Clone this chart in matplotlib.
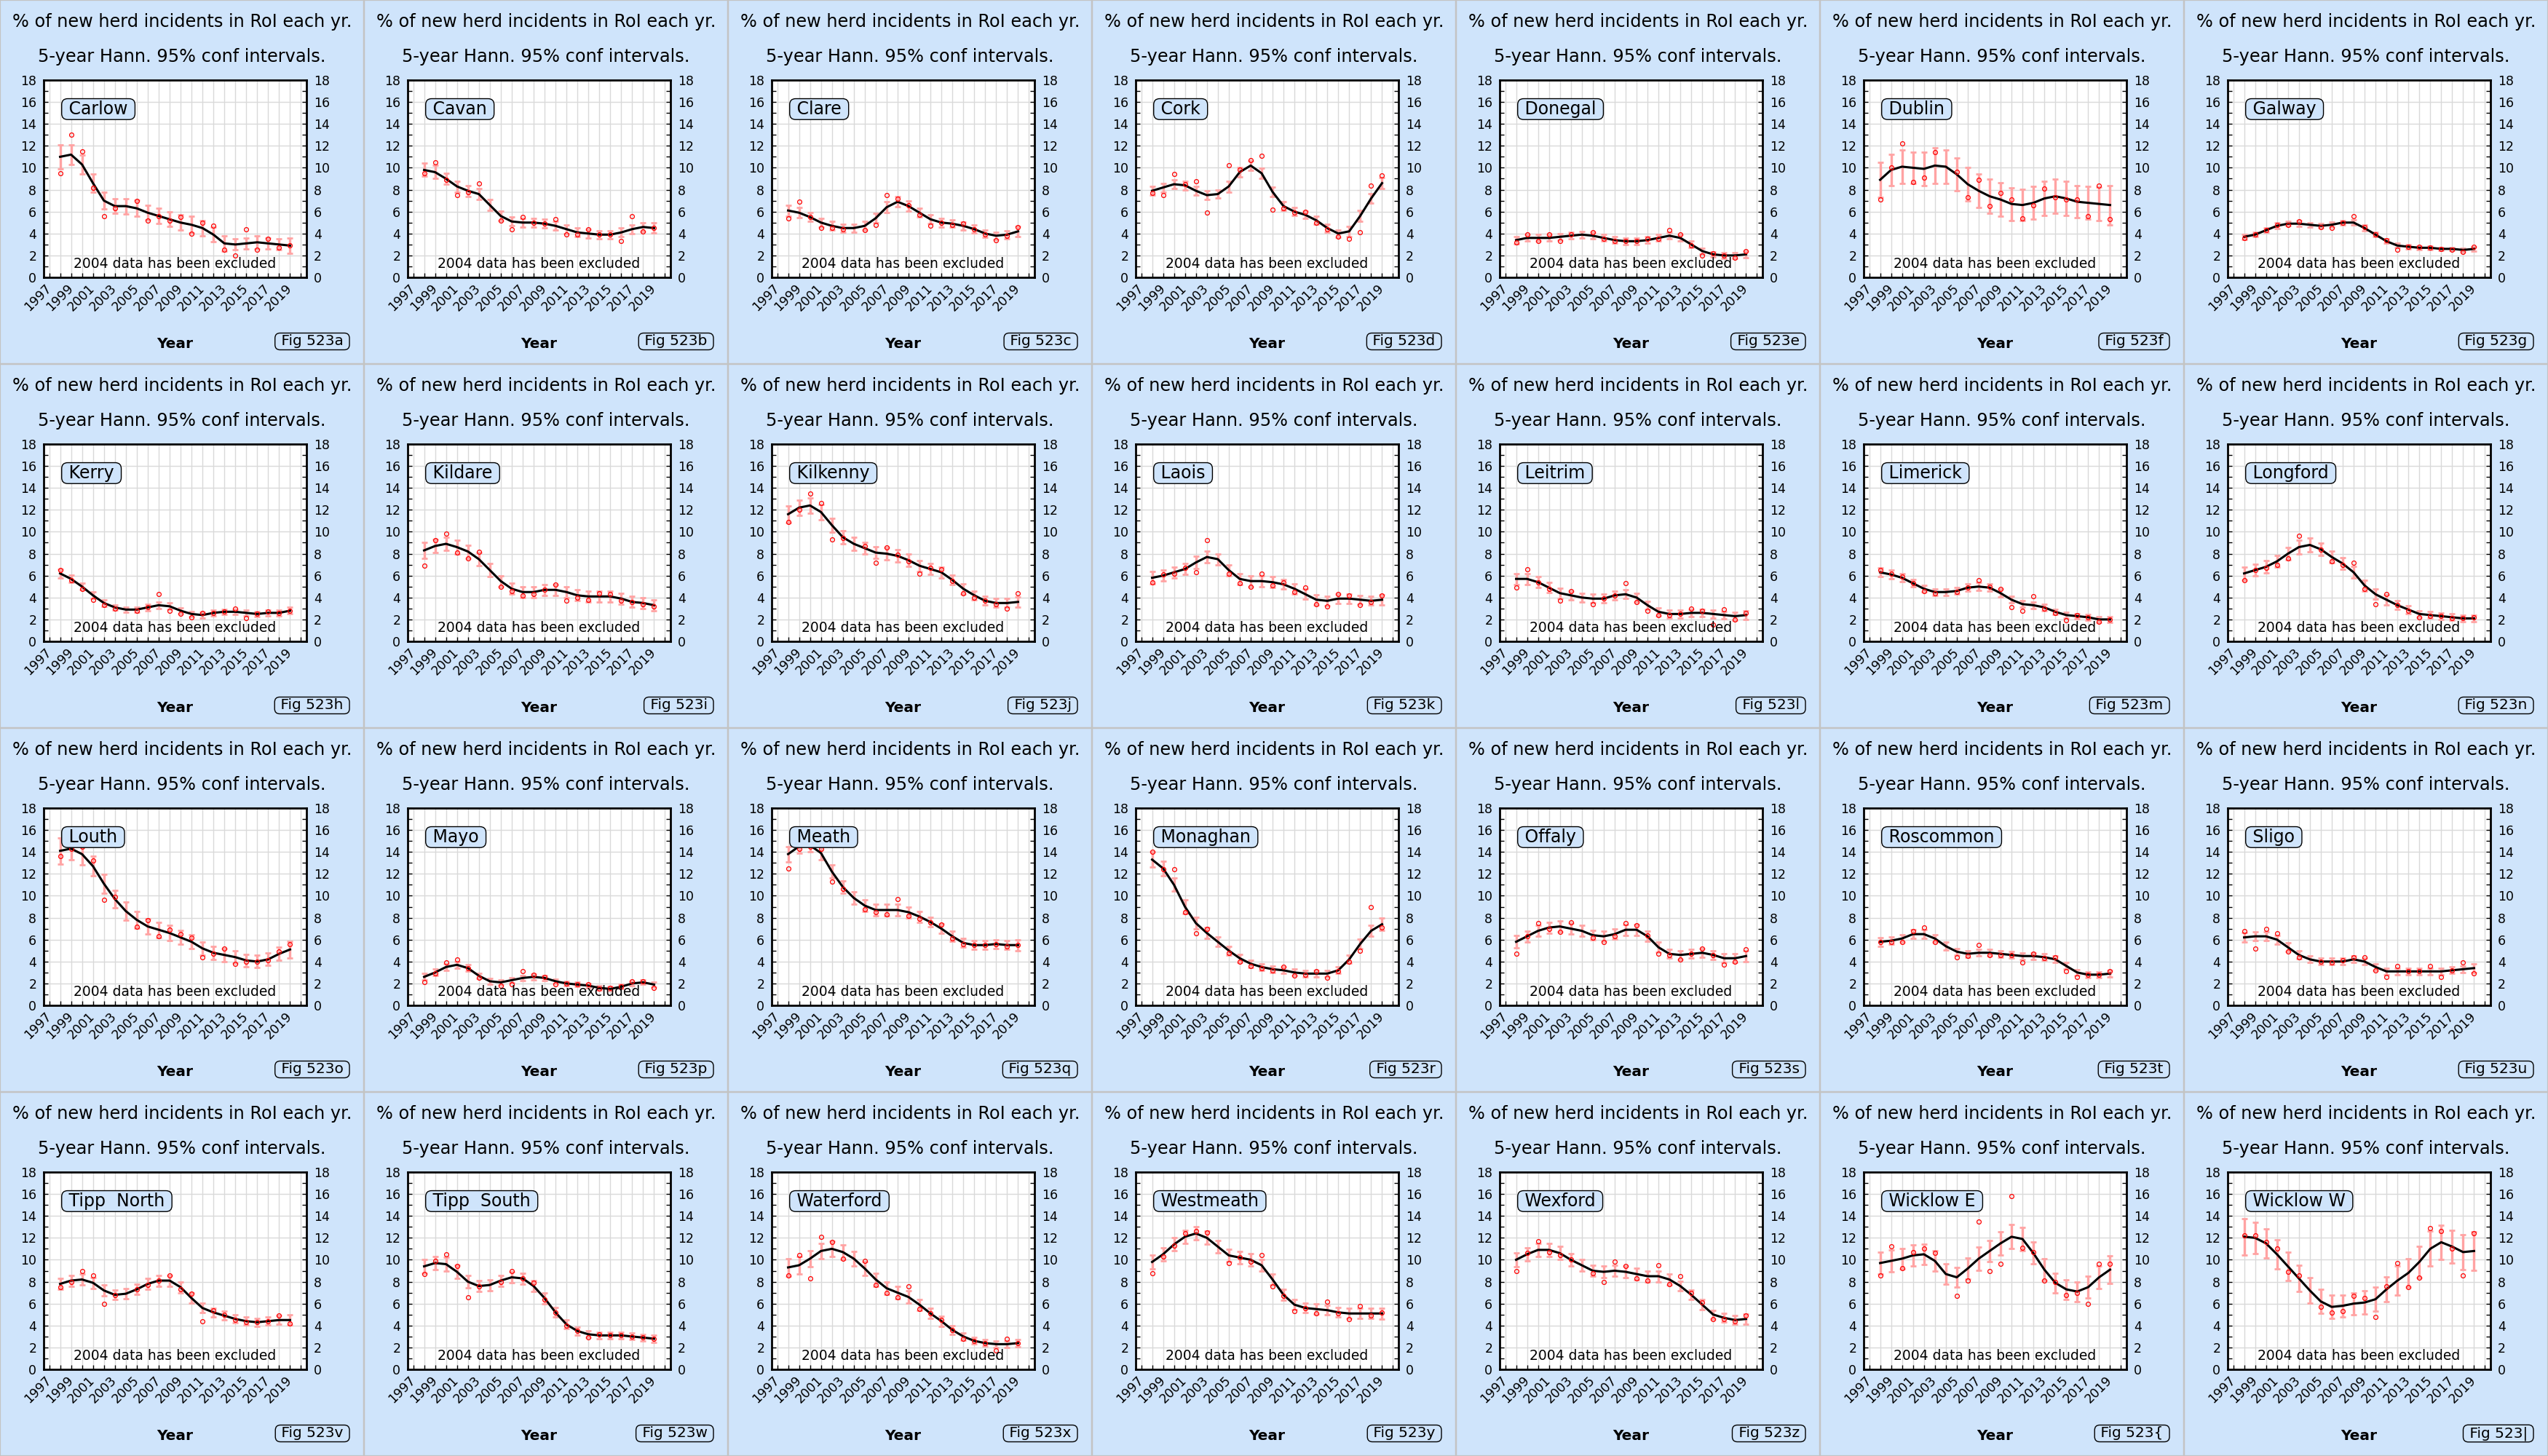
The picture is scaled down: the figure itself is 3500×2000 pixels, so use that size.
import numpy as np
import matplotlib.pyplot as plt
from matplotlib.patches import Rectangle

YEARS = list(range(1998, 2020))

# smoothed %, half width of 95% interval, observed % (2004 excluded -> None)
carlow = [11.0, 11.2, 10.3, 8.6, 7.0, 6.5, 6.5, 6.3, 5.9, 5.6, 5.3, 5.0, 4.8, 4.5, 3.9, 3.1, 3.0, 3.1, 3.2, 3.1, 3.0, 2.9]
carlow_ci = [1.1, 0.9, 0.85, 0.8, 0.75, 0.65, 0.7, 0.75, 0.65, 0.7, 0.65, 0.7, 0.75, 0.7, 0.65, 0.7, 0.5, 0.5, 0.6, 0.5, 0.5, 0.7]
carlow_obs = [9.5, 13.0, 11.5, 8.2, 5.6, 6.3, None, 7.0, 5.2, 5.6, 5.2, 5.5, 4.0, 5.0, 4.7, 2.5, 2.0, 4.4, 2.5, 3.5, 2.7, 2.9]

cavan = [9.8, 9.6, 9.0, 8.3, 7.9, 7.6, 6.6, 5.6, 5.1, 5.0, 5.0, 4.9, 4.7, 4.4, 4.1, 4.0, 3.9, 3.9, 4.1, 4.4, 4.6, 4.5]
cavan_ci = [0.6, 0.6, 0.5, 0.5, 0.5, 0.5, 0.5, 0.45, 0.4, 0.4, 0.4, 0.4, 0.4, 0.4, 0.4, 0.4, 0.35, 0.35, 0.4, 0.4, 0.4, 0.45]
cavan_obs = [9.5, 10.5, 8.9, 7.5, 7.8, 8.6, None, 5.2, 4.4, 5.5, 5.0, 4.9, 5.3, 3.9, 3.9, 4.4, 3.9, 3.9, 3.3, 5.6, 4.2, 4.5]

clare = [6.1, 5.9, 5.5, 5.0, 4.7, 4.5, 4.5, 4.7, 5.4, 6.4, 6.9, 6.5, 5.9, 5.3, 5.0, 4.9, 4.7, 4.4, 4.0, 3.8, 3.9, 4.2]
clare_ci = [0.5, 0.45, 0.4, 0.4, 0.4, 0.35, 0.35, 0.4, 0.45, 0.5, 0.45, 0.45, 0.4, 0.4, 0.4, 0.35, 0.35, 0.35, 0.35, 0.35, 0.35, 0.45]
clare_obs = [5.4, 6.9, 5.5, 4.5, 4.5, 4.4, None, 4.3, 4.8, 7.5, 7.2, 6.6, 5.7, 4.7, 5.0, 4.8, 4.9, 4.4, 3.9, 3.4, 3.8, 4.6]

cork = [7.9, 8.2, 8.5, 8.4, 7.9, 7.5, 7.6, 8.3, 9.6, 10.2, 9.5, 7.8, 6.5, 6.0, 5.7, 5.2, 4.5, 4.0, 4.2, 5.6, 7.2, 8.6]
cork_ci = [0.4, 0.4, 0.4, 0.4, 0.4, 0.4, 0.35, 0.5, 0.45, 0.45, 0.45, 0.45, 0.4, 0.35, 0.35, 0.35, 0.35, 0.35, 0.45, 0.5, 0.45, 0.5]
cork_obs = [7.7, 7.5, 9.4, 8.5, 8.8, 5.9, None, 10.2, 9.8, 10.7, 11.1, 6.2, 6.3, 5.9, 6.0, 5.0, 4.4, 3.7, 3.5, 4.1, 8.4, 9.3]

donegal = [3.4, 3.6, 3.6, 3.6, 3.7, 3.8, 3.9, 3.8, 3.6, 3.4, 3.3, 3.3, 3.4, 3.6, 3.8, 3.6, 3.0, 2.4, 2.1, 2.0, 2.0, 2.1]
donegal_ci = [0.35, 0.3, 0.3, 0.3, 0.3, 0.3, 0.3, 0.3, 0.3, 0.3, 0.3, 0.3, 0.3, 0.3, 0.3, 0.3, 0.3, 0.25, 0.25, 0.25, 0.25, 0.3]
donegal_obs = [3.2, 3.9, 3.3, 3.9, 3.3, 3.9, None, 4.1, 3.5, 3.3, 3.3, 3.3, 3.5, 3.5, 4.3, 3.9, 2.9, 2.0, 2.2, 2.0, 1.8, 2.4]

dublin = [8.9, 9.8, 10.1, 10.0, 9.9, 10.2, 10.1, 9.4, 8.5, 7.9, 7.4, 7.1, 6.7, 6.6, 6.8, 7.2, 7.4, 7.2, 6.9, 6.8, 6.7, 6.6]
dublin_ci = [1.6, 1.45, 1.5, 1.45, 1.55, 1.65, 1.55, 1.5, 1.55, 1.55, 1.55, 1.55, 1.5, 1.45, 1.5, 1.55, 1.55, 1.55, 1.45, 1.5, 1.55, 1.8]
dublin_obs = [7.1, 10.0, 12.2, 8.7, 9.1, 11.4, None, 9.6, 7.3, 8.9, 6.5, 7.7, 7.1, 5.4, 6.6, 8.1, 7.3, 7.1, 7.1, 5.6, 8.4, 5.3]

galway = [3.7, 3.9, 4.3, 4.7, 4.9, 4.9, 4.8, 4.7, 4.8, 5.0, 5.0, 4.5, 3.9, 3.3, 2.9, 2.8, 2.7, 2.7, 2.6, 2.6, 2.5, 2.6]
galway_ci = [0.25, 0.2, 0.2, 0.25, 0.2, 0.25, 0.2, 0.2, 0.25, 0.2, 0.25, 0.25, 0.2, 0.2, 0.2, 0.2, 0.15, 0.15, 0.15, 0.15, 0.15, 0.2]
galway_obs = [3.6, 3.9, 4.3, 4.8, 4.8, 5.1, None, 4.6, 4.5, 5.0, 5.6, 4.6, 3.9, 3.4, 2.5, 2.8, 2.8, 2.7, 2.6, 2.5, 2.3, 2.8]

kerry = [6.2, 5.7, 5.0, 4.2, 3.5, 3.1, 2.9, 2.9, 3.1, 3.3, 3.2, 2.8, 2.5, 2.4, 2.6, 2.7, 2.7, 2.6, 2.5, 2.6, 2.6, 2.8]
kerry_ci = [0.4, 0.35, 0.3, 0.3, 0.3, 0.25, 0.25, 0.25, 0.3, 0.3, 0.3, 0.25, 0.25, 0.25, 0.25, 0.25, 0.25, 0.25, 0.25, 0.25, 0.25, 0.3]
kerry_obs = [6.5, 5.6, 4.8, 3.8, 3.3, 3.0, None, 2.8, 3.1, 4.3, 2.8, 2.5, 2.2, 2.6, 2.6, 2.7, 3.0, 2.1, 2.5, 2.7, 2.6, 2.8]

kildare = [8.3, 8.7, 8.9, 8.6, 8.2, 7.5, 6.5, 5.5, 4.8, 4.5, 4.5, 4.7, 4.7, 4.5, 4.2, 4.1, 4.1, 4.1, 3.9, 3.6, 3.5, 3.3]
kildare_ci = [0.7, 0.6, 0.6, 0.65, 0.6, 0.6, 0.6, 0.5, 0.5, 0.5, 0.5, 0.5, 0.5, 0.5, 0.5, 0.5, 0.5, 0.5, 0.5, 0.5, 0.5, 0.5]
kildare_obs = [6.9, 9.2, 9.8, 8.1, 7.6, 8.2, None, 5.0, 4.6, 4.2, 4.3, 4.7, 5.2, 3.7, 4.0, 3.8, 4.4, 4.3, 3.7, 3.6, 3.4, 3.2]

kilkenny = [11.6, 12.2, 12.4, 11.8, 10.6, 9.5, 8.9, 8.5, 8.1, 8.0, 7.8, 7.4, 6.9, 6.6, 6.3, 5.6, 4.8, 4.2, 3.7, 3.5, 3.5, 3.6]
kilkenny_ci = [0.75, 0.7, 0.7, 0.7, 0.65, 0.6, 0.6, 0.55, 0.55, 0.55, 0.55, 0.55, 0.5, 0.5, 0.5, 0.45, 0.45, 0.4, 0.4, 0.4, 0.4, 0.45]
kilkenny_obs = [10.9, 12.0, 13.5, 12.6, 9.3, 9.4, None, 8.7, 7.2, 8.6, 7.9, 7.3, 6.2, 6.7, 6.6, 5.5, 4.4, 4.0, 3.7, 3.4, 3.0, 4.4]

laois = [5.8, 6.0, 6.3, 6.6, 7.2, 7.7, 7.5, 6.5, 5.7, 5.5, 5.5, 5.4, 5.2, 4.8, 4.3, 3.8, 3.7, 3.9, 3.9, 3.8, 3.7, 3.8]
laois_ci = [0.55, 0.5, 0.5, 0.5, 0.55, 0.55, 0.5, 0.5, 0.5, 0.5, 0.5, 0.5, 0.45, 0.45, 0.45, 0.45, 0.45, 0.45, 0.45, 0.4, 0.4, 0.45]
laois_obs = [5.4, 6.1, 6.2, 6.7, 6.3, 9.2, None, 6.2, 5.3, 5.0, 6.2, 5.1, 5.4, 4.5, 4.9, 3.4, 3.2, 4.3, 4.2, 3.3, 3.6, 4.2]

leitrim = [5.7, 5.7, 5.4, 4.9, 4.4, 4.2, 4.0, 3.9, 3.9, 4.2, 4.3, 4.0, 3.3, 2.7, 2.5, 2.5, 2.6, 2.6, 2.5, 2.4, 2.3, 2.4]
leitrim_ci = [0.5, 0.5, 0.5, 0.45, 0.45, 0.4, 0.4, 0.4, 0.4, 0.4, 0.4, 0.4, 0.35, 0.35, 0.35, 0.35, 0.35, 0.35, 0.35, 0.35, 0.35, 0.4]
leitrim_obs = [4.9, 6.6, 5.4, 4.8, 3.7, 4.6, None, 3.4, 3.9, 4.2, 5.3, 3.6, 2.8, 2.4, 2.4, 2.5, 3.0, 2.8, 1.5, 2.9, 2.0, 2.6]

limerick = [6.3, 6.1, 5.8, 5.3, 4.8, 4.5, 4.5, 4.6, 4.9, 5.0, 4.9, 4.4, 3.8, 3.4, 3.3, 3.1, 2.7, 2.4, 2.3, 2.2, 2.0, 2.0]
limerick_ci = [0.4, 0.4, 0.35, 0.35, 0.3, 0.3, 0.3, 0.3, 0.35, 0.35, 0.35, 0.35, 0.3, 0.3, 0.3, 0.3, 0.25, 0.25, 0.25, 0.25, 0.25, 0.25]
limerick_obs = [6.5, 6.2, 5.9, 5.3, 4.6, 4.4, None, 4.5, 4.9, 5.6, 5.0, 4.8, 3.1, 2.8, 4.1, 3.0, 2.6, 1.9, 2.4, 2.2, 1.8, 2.0]

longford = [6.2, 6.5, 6.8, 7.3, 8.0, 8.6, 8.8, 8.4, 7.7, 7.1, 6.3, 5.1, 4.3, 3.8, 3.3, 2.9, 2.5, 2.4, 2.3, 2.2, 2.1, 2.1]
longford_ci = [0.6, 0.55, 0.55, 0.55, 0.55, 0.6, 0.6, 0.55, 0.55, 0.55, 0.55, 0.5, 0.45, 0.45, 0.4, 0.35, 0.3, 0.3, 0.3, 0.3, 0.3, 0.3]
longford_obs = [5.6, 6.5, 6.7, 7.0, 7.6, 9.6, None, 8.4, 7.3, 7.0, 7.2, 4.8, 3.4, 4.3, 3.3, 2.8, 2.2, 2.3, 2.3, 2.1, 2.1, 2.2]

louth = [14.1, 14.3, 13.8, 12.7, 11.1, 9.7, 8.6, 7.8, 7.2, 6.9, 6.6, 6.2, 5.8, 5.2, 4.8, 4.6, 4.4, 4.1, 4.0, 4.2, 4.7, 5.1]
louth_ci = [1.2, 1.0, 0.95, 0.9, 0.85, 0.8, 0.8, 0.75, 0.7, 0.7, 0.7, 0.65, 0.65, 0.6, 0.6, 0.6, 0.55, 0.55, 0.55, 0.55, 0.6, 0.75]
louth_obs = [13.6, 14.3, 14.5, 13.2, 9.6, 9.9, None, 7.2, 7.8, 6.3, 6.9, 6.5, 6.2, 4.4, 4.7, 5.2, 3.8, 4.0, 4.0, 4.1, 4.9, 5.6]

mayo = [2.6, 3.0, 3.5, 3.7, 3.4, 2.7, 2.2, 2.1, 2.3, 2.5, 2.6, 2.5, 2.2, 2.0, 1.9, 1.8, 1.6, 1.5, 1.7, 2.0, 2.1, 1.9]
mayo_ci = [0.3, 0.3, 0.3, 0.3, 0.3, 0.25, 0.25, 0.25, 0.25, 0.25, 0.25, 0.25, 0.2, 0.2, 0.2, 0.2, 0.2, 0.2, 0.2, 0.2, 0.2, 0.25]
mayo_obs = [2.1, 2.9, 3.9, 4.2, 3.4, 2.5, None, 1.8, 1.9, 3.1, 2.8, 2.6, 1.9, 2.0, 1.9, 1.9, 1.5, 1.6, 1.7, 2.2, 2.2, 1.6]

meath = [13.8, 14.5, 14.6, 13.9, 12.2, 10.8, 9.8, 9.1, 8.7, 8.7, 8.7, 8.5, 8.1, 7.6, 7.0, 6.3, 5.7, 5.5, 5.5, 5.6, 5.5, 5.5]
meath_ci = [0.7, 0.6, 0.6, 0.6, 0.6, 0.55, 0.55, 0.5, 0.5, 0.5, 0.5, 0.5, 0.5, 0.45, 0.45, 0.45, 0.4, 0.4, 0.4, 0.4, 0.4, 0.5]
meath_obs = [12.5, 14.3, 14.5, 14.3, 11.3, 10.6, None, 8.8, 8.5, 8.3, 9.7, 8.2, 7.9, 7.6, 7.4, 6.1, 5.6, 5.5, 5.5, 5.6, 5.4, 5.5]

monaghan = [13.3, 12.5, 11.0, 9.0, 7.5, 6.6, 5.8, 5.0, 4.3, 3.8, 3.5, 3.3, 3.2, 3.0, 2.9, 2.9, 2.9, 3.2, 4.2, 5.6, 6.8, 7.4]
monaghan_ci = [0.7, 0.65, 0.6, 0.6, 0.55, 0.5, 0.45, 0.4, 0.35, 0.35, 0.3, 0.3, 0.3, 0.3, 0.3, 0.3, 0.3, 0.3, 0.35, 0.45, 0.5, 0.55]
monaghan_obs = [14.0, 12.4, 12.4, 8.5, 6.6, 7.0, None, 4.8, 4.0, 3.6, 3.4, 3.2, 3.5, 2.7, 2.8, 3.1, 2.5, 3.1, 4.0, 5.0, 9.0, 7.1]

offaly = [5.8, 6.3, 6.8, 7.1, 7.2, 7.0, 6.8, 6.4, 6.3, 6.5, 6.9, 6.9, 6.3, 5.3, 4.7, 4.6, 4.7, 4.8, 4.6, 4.3, 4.3, 4.5]
offaly_ci = [0.55, 0.5, 0.5, 0.5, 0.5, 0.5, 0.5, 0.45, 0.45, 0.45, 0.5, 0.5, 0.45, 0.45, 0.4, 0.4, 0.4, 0.4, 0.4, 0.4, 0.4, 0.5]
offaly_obs = [4.7, 6.3, 7.5, 7.0, 6.7, 7.6, None, 6.2, 5.8, 6.3, 7.5, 7.3, 6.4, 4.7, 4.6, 4.2, 4.7, 5.2, 4.6, 3.7, 4.0, 5.1]

roscommon = [5.8, 5.9, 6.1, 6.5, 6.5, 6.1, 5.4, 4.9, 4.7, 4.8, 4.8, 4.7, 4.6, 4.5, 4.5, 4.4, 4.2, 3.6, 3.0, 2.8, 2.8, 2.9]
roscommon_ci = [0.4, 0.35, 0.35, 0.4, 0.4, 0.35, 0.35, 0.3, 0.3, 0.3, 0.3, 0.3, 0.3, 0.3, 0.3, 0.3, 0.3, 0.3, 0.25, 0.25, 0.25, 0.3]
roscommon_obs = [5.8, 5.8, 5.8, 6.8, 7.1, 5.8, None, 4.4, 4.5, 5.5, 4.6, 4.6, 4.6, 3.9, 4.7, 4.3, 4.4, 3.1, 2.6, 2.8, 2.8, 3.1]

sligo = [6.2, 6.3, 6.3, 6.0, 5.3, 4.6, 4.2, 4.0, 4.0, 4.0, 4.2, 4.0, 3.5, 3.1, 3.1, 3.1, 3.1, 3.1, 3.1, 3.2, 3.3, 3.4]
sligo_ci = [0.45, 0.4, 0.4, 0.4, 0.4, 0.35, 0.3, 0.3, 0.3, 0.3, 0.3, 0.3, 0.3, 0.3, 0.3, 0.3, 0.3, 0.3, 0.3, 0.3, 0.3, 0.4]
sligo_obs = [6.8, 5.2, 7.0, 6.6, 4.9, 4.4, None, 4.0, 3.9, 4.1, 4.4, 4.4, 3.2, 2.6, 3.6, 3.1, 3.1, 3.6, 2.6, 3.2, 3.9, 2.9]

tipp_north = [7.8, 8.1, 8.2, 7.9, 7.2, 6.8, 6.9, 7.3, 7.8, 8.1, 8.1, 7.5, 6.5, 5.6, 5.2, 4.9, 4.6, 4.4, 4.3, 4.4, 4.5, 4.5]
tipp_north_ci = [0.5, 0.5, 0.5, 0.5, 0.5, 0.45, 0.45, 0.45, 0.5, 0.5, 0.5, 0.5, 0.45, 0.45, 0.4, 0.4, 0.35, 0.35, 0.35, 0.35, 0.4, 0.45]
tipp_north_obs = [7.5, 8.0, 9.0, 8.6, 6.0, 6.8, None, 7.3, 7.7, 8.1, 8.6, 7.3, 6.9, 4.4, 5.4, 5.0, 4.5, 4.3, 4.3, 4.4, 4.9, 4.2]

tipp_south = [9.4, 9.7, 9.6, 8.9, 8.0, 7.6, 7.7, 8.1, 8.4, 8.3, 7.6, 6.5, 5.2, 4.1, 3.5, 3.2, 3.1, 3.1, 3.1, 3.0, 2.9, 2.8]
tipp_south_ci = [0.65, 0.6, 0.6, 0.6, 0.55, 0.5, 0.5, 0.5, 0.5, 0.5, 0.5, 0.5, 0.45, 0.4, 0.35, 0.3, 0.3, 0.3, 0.3, 0.3, 0.3, 0.35]
tipp_south_obs = [8.7, 9.9, 10.5, 9.4, 6.6, 7.6, None, 8.0, 9.0, 8.3, 7.9, 6.4, 5.2, 4.0, 3.5, 2.9, 3.2, 3.1, 3.1, 3.0, 2.9, 2.8]

waterford = [9.3, 9.5, 10.1, 10.8, 11.0, 10.7, 10.1, 9.2, 8.2, 7.4, 7.0, 6.6, 5.9, 5.1, 4.4, 3.6, 3.0, 2.6, 2.4, 2.3, 2.3, 2.4]
waterford_ci = [0.8, 0.8, 0.75, 0.7, 0.7, 0.65, 0.65, 0.6, 0.6, 0.55, 0.55, 0.55, 0.5, 0.45, 0.45, 0.4, 0.35, 0.3, 0.3, 0.3, 0.3, 0.35]
waterford_obs = [8.6, 10.4, 8.3, 12.1, 11.6, 10.1, None, 9.9, 7.7, 7.0, 6.6, 7.6, 5.5, 5.1, 4.5, 3.6, 2.8, 2.6, 2.4, 1.7, 2.8, 2.4]

westmeath = [9.8, 10.5, 11.4, 12.1, 12.4, 12.0, 11.2, 10.4, 10.2, 10.0, 9.5, 8.2, 6.8, 5.9, 5.6, 5.5, 5.4, 5.2, 5.1, 5.1, 5.1, 5.1]
westmeath_ci = [0.65, 0.6, 0.6, 0.6, 0.6, 0.6, 0.55, 0.55, 0.55, 0.55, 0.55, 0.5, 0.5, 0.45, 0.45, 0.45, 0.45, 0.45, 0.45, 0.45, 0.45, 0.5]
westmeath_obs = [8.8, 10.3, 11.3, 12.4, 12.6, 12.5, None, 9.7, 10.2, 9.8, 10.4, 7.6, 6.7, 5.3, 5.6, 5.1, 6.2, 5.1, 4.6, 5.8, 4.9, 5.2]

wexford = [10.0, 10.5, 10.9, 10.9, 10.6, 10.0, 9.5, 9.0, 8.9, 9.0, 8.9, 8.7, 8.5, 8.5, 8.2, 7.6, 6.8, 5.9, 5.0, 4.7, 4.5, 4.6]
wexford_ci = [0.65, 0.6, 0.6, 0.6, 0.6, 0.55, 0.55, 0.5, 0.5, 0.5, 0.5, 0.5, 0.5, 0.5, 0.5, 0.45, 0.45, 0.45, 0.4, 0.4, 0.4, 0.45]
wexford_obs = [9.0, 10.6, 11.7, 10.7, 10.4, 10.0, None, 8.8, 8.0, 9.8, 9.4, 8.3, 8.1, 9.5, 7.8, 8.5, 7.0, 6.1, 4.6, 4.6, 4.4, 4.9]

wicklow_e = [9.7, 9.9, 10.1, 10.4, 10.5, 9.9, 8.7, 8.4, 9.2, 10.1, 10.8, 11.5, 12.1, 11.9, 10.6, 9.1, 7.9, 7.3, 7.1, 7.5, 8.4, 9.1]
wicklow_e_ci = [1.0, 1.0, 0.95, 0.95, 0.95, 0.95, 0.95, 0.9, 0.95, 1.05, 0.95, 1.05, 1.1, 1.05, 1.0, 1.0, 0.9, 0.9, 0.9, 1.0, 1.0, 1.25]
wicklow_e_obs = [8.6, 11.2, 9.2, 10.7, 11.0, 10.6, None, 6.7, 8.1, 13.5, 9.0, 9.6, 15.8, 11.1, 10.7, 8.1, 8.0, 6.8, 7.0, 6.0, 9.6, 9.6]

wicklow_w = [12.1, 12.0, 11.5, 10.5, 9.4, 8.3, 7.2, 6.2, 5.7, 5.8, 6.0, 6.1, 6.4, 7.3, 8.1, 8.8, 9.8, 11.0, 11.6, 11.2, 10.7, 10.8]
wicklow_w_ci = [1.65, 1.45, 1.35, 1.35, 1.3, 1.2, 1.15, 1.1, 1.05, 1.0, 1.0, 1.05, 1.1, 1.15, 1.35, 1.3, 1.4, 1.6, 1.55, 1.5, 1.6, 1.75]
wicklow_w_obs = [12.2, 12.2, 11.6, 11.0, 8.9, 8.6, None, 5.7, 5.2, 5.3, 6.7, 6.5, 4.8, 7.6, 9.7, 7.5, 8.4, 12.9, 12.6, 11.0, 8.6, 12.4]

PANELS = [
    ("Carlow", "a", carlow, carlow_ci, carlow_obs),
    ("Cavan", "b", cavan, cavan_ci, cavan_obs),
    ("Clare", "c", clare, clare_ci, clare_obs),
    ("Cork", "d", cork, cork_ci, cork_obs),
    ("Donegal", "e", donegal, donegal_ci, donegal_obs),
    ("Dublin", "f", dublin, dublin_ci, dublin_obs),
    ("Galway", "g", galway, galway_ci, galway_obs),
    ("Kerry", "h", kerry, kerry_ci, kerry_obs),
    ("Kildare", "i", kildare, kildare_ci, kildare_obs),
    ("Kilkenny", "j", kilkenny, kilkenny_ci, kilkenny_obs),
    ("Laois", "k", laois, laois_ci, laois_obs),
    ("Leitrim", "l", leitrim, leitrim_ci, leitrim_obs),
    ("Limerick", "m", limerick, limerick_ci, limerick_obs),
    ("Longford", "n", longford, longford_ci, longford_obs),
    ("Louth", "o", louth, louth_ci, louth_obs),
    ("Mayo", "p", mayo, mayo_ci, mayo_obs),
    ("Meath", "q", meath, meath_ci, meath_obs),
    ("Monaghan", "r", monaghan, monaghan_ci, monaghan_obs),
    ("Offaly", "s", offaly, offaly_ci, offaly_obs),
    ("Roscommon", "t", roscommon, roscommon_ci, roscommon_obs),
    ("Sligo", "u", sligo, sligo_ci, sligo_obs),
    ("Tipp  North", "v", tipp_north, tipp_north_ci, tipp_north_obs),
    ("Tipp  South", "w", tipp_south, tipp_south_ci, tipp_south_obs),
    ("Waterford", "x", waterford, waterford_ci, waterford_obs),
    ("Westmeath", "y", westmeath, westmeath_ci, westmeath_obs),
    ("Wexford", "z", wexford, wexford_ci, wexford_obs),
    ("Wicklow E", "{", wicklow_e, wicklow_e_ci, wicklow_e_obs),
    ("Wicklow W", "|", wicklow_w, wicklow_w_ci, wicklow_w_obs),
]

TITLE1 = "% of new herd incidents in RoI each yr."
TITLE2 = "5-year Hann. 95% conf intervals."
NOTE = "2004 data has been excluded"

BG = "#cfe4fb"
GRID = "#d9d9d9"
W, H = 3500, 2000

fig = plt.figure(figsize=(35, 20), dpi=100)
fig.patch.set_facecolor(BG)


def fx(px):
    return px / W


def fy(py):
    return 1 - py / H


for i, (name, tag, smooth, ci, obs) in enumerate(PANELS):
    r, c = divmod(i, 7)
    x0, y0 = c * 500, r * 500

    fig.add_artist(Rectangle((fx(x0), fy(y0 + 500)), 500 / W, 500 / H,
                             transform=fig.transFigure, fill=False,
                             ec="#c3c3c3", lw=1.6))

    ax = fig.add_axes([fx(x0 + 60), fy(y0 + 381), 361 / W, 271 / H])
    ax.set_facecolor("white")
    ax.set_xlim(1996.5, 2020.5)
    ax.set_ylim(0, 18)
    ax.set_xticks(range(1997, 2020, 2))
    ax.set_xticks(range(1997, 2021), minor=True)
    ax.set_yticks(range(0, 19, 2))
    ax.set_yticks(range(0, 19), minor=True)
    ax.grid(which="major", color=GRID, lw=1)
    ax.grid(which="minor", axis="x", color=GRID, lw=1)
    ax.set_axisbelow(True)
    ax.tick_params(which="both", direction="in", length=4, width=1,
                   right=True, top=False, labelright=True, labelsize=12.5)
    ax.tick_params(axis="y", pad=7)
    ax.tick_params(axis="x", pad=9, labelrotation=45)
    plt.setp(ax.get_xticklabels(), ha="right", va="center",
             rotation_mode="anchor")
    for sp in ax.spines.values():
        sp.set_linewidth(2)

    obs_arr = np.array([np.nan if v is None else v for v in obs])
    ax.errorbar(YEARS, smooth, yerr=ci, fmt="none", ecolor="#ffa3a3",
                elinewidth=2.4, capsize=2.6, capthick=2, zorder=3)
    ax.plot(YEARS, smooth, color="black", lw=2.2, zorder=4)
    ax.plot(YEARS, obs_arr, "o", mfc="none", mec="red", ms=4.2, mew=0.9,
            zorder=5)

    ax.text(2008.5, 1.2, NOTE, ha="center", va="center", fontsize=13.5,
            zorder=6)
    ax.text(1998.3, 15.35, " " + name + " ", ha="left", va="center",
            fontsize=17, zorder=6,
            bbox=dict(boxstyle="round,pad=0.1,rounding_size=0.35",
                      fc=BG, ec="black", lw=1))

    fig.text(fx(x0 + 250), fy(y0 + 30), TITLE1, ha="center", va="center",
             fontsize=17.3)
    fig.text(fx(x0 + 250), fy(y0 + 78), TITLE2, ha="center", va="center",
             fontsize=17.3)
    fig.text(fx(x0 + 240), fy(y0 + 472), "Year", ha="center", va="center",
             fontsize=14.5, fontweight="bold")
    fig.text(fx(x0 + 478), fy(y0 + 469), " Fig 523" + tag + " ", ha="right",
             va="center", fontsize=14.5,
             bbox=dict(boxstyle="round,pad=0.1,rounding_size=0.35",
                       fc=BG, ec="black", lw=1))

fig.savefig("out.png", dpi=100, facecolor=BG)
